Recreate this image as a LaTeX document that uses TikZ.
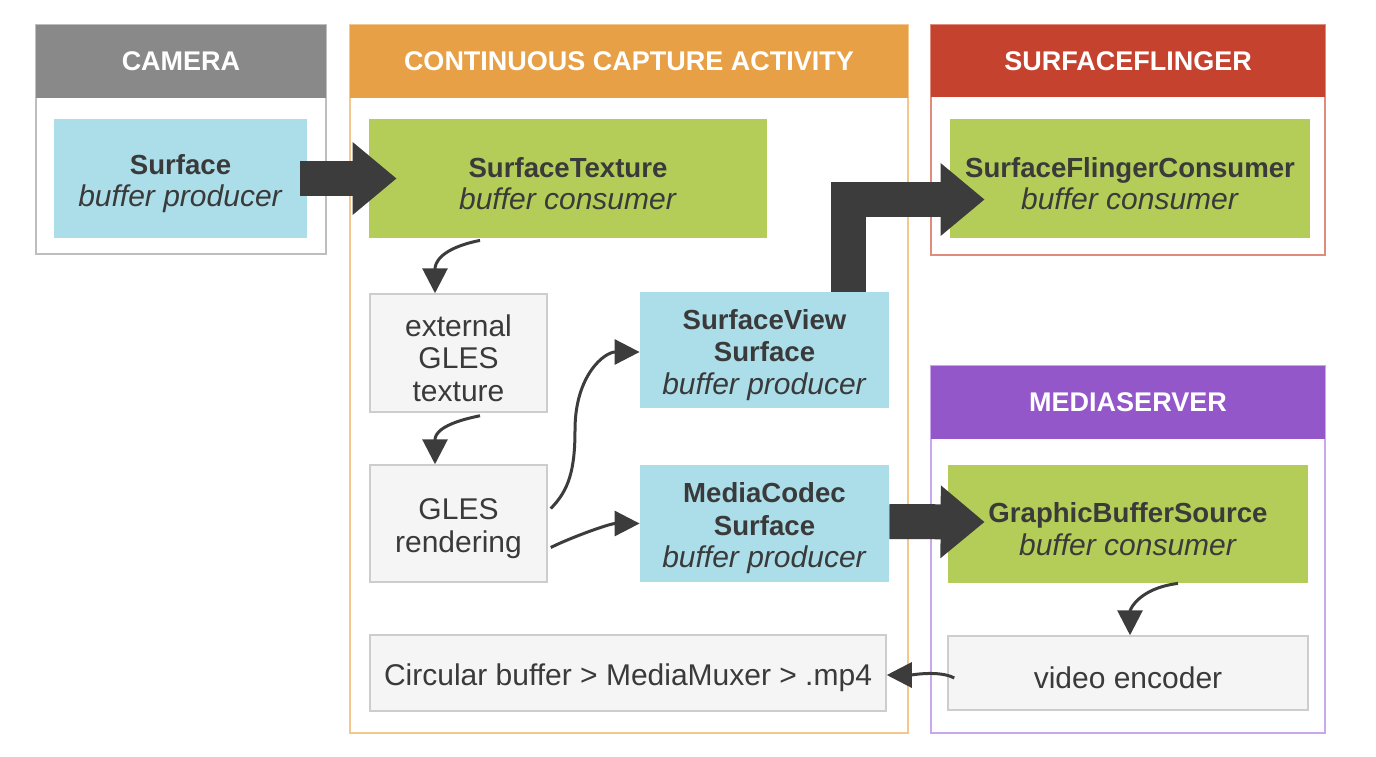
\documentclass[tikz,border=0pt]{standalone}
\usepackage{fontspec}
\setmainfont{Liberation Sans}
\usetikzlibrary{arrows.meta}
\definecolor{hgray}{RGB}{137,137,137}
\definecolor{horange}{RGB}{232,160,70}
\definecolor{borange}{RGB}{244,200,140}
\definecolor{hred}{RGB}{196,66,46}
\definecolor{bred}{RGB}{224,140,124}
\definecolor{hpurple}{RGB}{148,87,201}
\definecolor{bpurple}{RGB}{200,168,234}
\definecolor{bgray}{RGB}{190,190,190}
\definecolor{fblue}{RGB}{172,222,234}
\definecolor{fgreen}{RGB}{180,204,88}
\definecolor{flight}{RGB}{245,245,245}
\definecolor{blight}{RGB}{205,205,205}
\definecolor{txt}{RGB}{58,58,58}
\definecolor{arr}{RGB}{60,60,60}
\newcommand\bt[1]{{\fontsize{13.8}{16.25}\selectfont\bfseries #1}}
\begin{document}
\begin{tikzpicture}[x=0.5pt,y=-0.5pt,
  container/.style={draw, line width=1pt, fill=white, inner sep=0pt, rectangle},
  header/.style={inner sep=0pt, text=white, font=\bfseries\fontsize{13.5}{16}\selectfont},
  box/.style={inner sep=0pt},
  boxtext/.style={inner sep=0pt, yshift=-2.5pt, align=center, text=txt, font=\fontsize{15}{16.25}\selectfont},
  bluebox/.style={box, fill=fblue},
  greenbox/.style={box, fill=fgreen},
  graybox/.style={box, fill=flight, draw=blight, line width=0.75pt},
  bigarrow/.style={draw=arr, line width=17.5pt, -{Triangle[length=22pt,width=35pt]}},
  flow/.style={draw=arr, line width=1.5pt, -{Triangle[length=12.5pt,width=12.5pt]}}
]
\useasboundingbox (0,0) rectangle (1376,756);
% containers
\node[container, draw=bgray, minimum width=145pt, minimum height=114.5pt] (cam) at (181,139.5) {};
\node[header, fill=hgray, minimum width=145pt, minimum height=36.5pt] (camh) at (181,61.5) {CAMERA};
\node[container, draw=borange, minimum width=279pt, minimum height=354pt] (cca) at (629,379) {};
\node[header, fill=horange, minimum width=279pt, minimum height=36.5pt] (ccah) at (629,61.5) {CONTINUOUS CAPTURE ACTIVITY};
\node[container, draw=bred, minimum width=197pt, minimum height=115pt] (sf) at (1128,140) {};
\node[header, fill=hred, minimum width=197pt, minimum height=36pt] (sfh) at (1128,61) {SURFACEFLINGER};
\node[container, draw=bpurple, minimum width=197pt, minimum height=183.5pt] (ms) at (1128,549.5) {};
\node[header, fill=hpurple, minimum width=197pt, minimum height=36.5pt] (msh) at (1128,402.5) {MEDIASERVER};
% boxes
\node[bluebox, minimum width=126.5pt, minimum height=59.5pt, label={[boxtext]center:{\bt{Surface}\\\textit{buffer producer}}}] (surface) at (180.5,178.5) {};
\node[greenbox, minimum width=199pt, minimum height=59.5pt, label={[boxtext]center:{\bt{SurfaceTexture}\\\textit{buffer consumer}}}] (st) at (568,178.5) {};
\node[graybox, minimum width=88.5pt, minimum height=59pt, label={[boxtext]center:{external\\GLES\\texture}}] (ext) at (458.5,353) {};
\node[graybox, minimum width=88.5pt, minimum height=58.5pt, label={[boxtext]center:{GLES\\rendering}}] (gles) at (458.5,523.5) {};
\node[bluebox, minimum width=124.5pt, minimum height=58pt, label={[boxtext]center:{\bt{SurfaceView}\\\bt{Surface}\\\textit{buffer producer}}}] (sv) at (764.5,350) {};
\node[bluebox, minimum width=124.5pt, minimum height=58.5pt, label={[boxtext]center:{\bt{MediaCodec}\\\bt{Surface}\\\textit{buffer producer}}}] (mc) at (764.5,523.5) {};
\node[graybox, minimum width=258pt, minimum height=38pt, label={[boxtext]center:{Circular buffer > MediaMuxer > .mp4}}] (circ) at (628,673) {};
\node[greenbox, minimum width=180pt, minimum height=59.5pt, label={[boxtext]center:{\bt{SurfaceFlingerConsumer}\\\textit{buffer consumer}}}] (sfc) at (1130,178.5) {};
\node[greenbox, minimum width=180pt, minimum height=59pt, label={[boxtext]center:{\bt{GraphicBufferSource}\\\textit{buffer consumer}}}] (gbs) at (1128,524) {};
\node[graybox, minimum width=180pt, minimum height=37pt, label={[boxtext]center:{video encoder}}] (venc) at (1128,673) {};
% thick arrows
\draw[bigarrow] ([xshift=-3.5pt]surface.east) -- ([xshift=14pt]st.west);
\draw[bigarrow] ([xshift=42pt]sv.north) |- ([xshift=17.5pt,yshift=-10.5pt]sfc.west);
\draw[bigarrow] ([yshift=1pt]mc.east) -- ([xshift=18.5pt,yshift=1pt]gbs.west);
% thin arrows
\draw[flow] ([xshift=-44pt,yshift=-1pt]st.south) .. controls +(-40,8) and +(0,-30) .. ([xshift=-11.75pt]ext.north);
\draw[flow] ([xshift=10.75pt,yshift=-1.5pt]ext.south) .. controls +(-40,8) and +(0,-30) .. ([xshift=-11.75pt]gles.north);
\draw[flow] ([xshift=1.5pt,yshift=7.5pt]gles.east) .. controls +(18,-18) and +(0,40) .. (575,430) .. controls +(0,-55) and +(-35,0) .. ([yshift=-1pt]sv.west);
\draw[flow] ([xshift=1.5pt,yshift=-12pt]gles.east) .. controls +(20,-10) and +(-30,0) .. (mc.west);
\draw[flow] ([xshift=25pt]gbs.south) .. controls +(-40,5) and +(0,-25) .. ([xshift=1pt]venc.north);
\draw[flow] ([xshift=3.5pt,yshift=-2.5pt]venc.west) .. controls +(-15,-8) and +(25,0) .. ([yshift=-1pt]circ.east);
\end{tikzpicture}
\end{document}
